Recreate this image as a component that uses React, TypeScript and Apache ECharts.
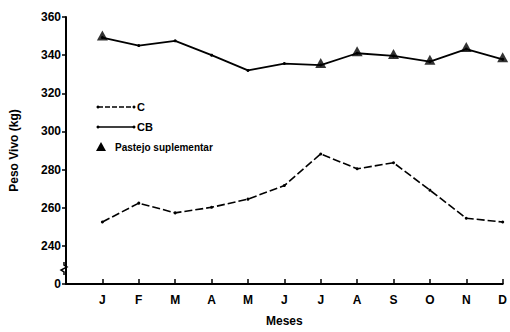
import React, { useEffect, useRef } from "react";
import * as echarts from "echarts";

const months = ["", "J", "F", "M", "A", "M", "J", "J", "A", "S", "O", "N", "D"];
const seriesC = [null, 252.5, 262.4, 257.3, 260.2, 264.5, 271.6, 288.2, 280.4, 283.6, 269.2, 254.5, 252.5];
const seriesCB = [null, 349.2, 345.0, 347.5, 340.0, 332.0, 335.6, 334.8, 341.0, 339.6, 336.6, 343.2, 337.8];
const pastejo = [null, 349.2, null, null, null, null, null, 334.8, 341.0, 339.6, 336.6, 343.2, 337.8];
const yTickLabels: Record<number, string> = { 220: "0", 240: "240", 260: "260", 280: "280", 300: "300", 320: "320", 340: "340", 360: "360" };

const FONT = "'Liberation Sans', Arial, sans-serif";

export default function App() {
  const ref = useRef<HTMLDivElement>(null);
  useEffect(() => {
    if (!ref.current) return;
    const chart = echarts.init(ref.current, null, { renderer: "svg" });
    chart.setOption({
      animation: false,
      backgroundColor: "#fff",
      grid: { left: 64, right: 4, top: 17, bottom: 42, containLabel: false },
      xAxis: {
        type: "category",
        data: months,
        boundaryGap: false,
        axisLine: { lineStyle: { color: "#000", width: 2 } },
        axisTick: { inside: true, length: 5, lineStyle: { color: "#000", width: 1.5 }, interval: 0 },
        axisLabel: { color: "#000", fontFamily: FONT, fontWeight: "bold", fontSize: 12, margin: 10, interval: 0 },
        name: "Meses",
        nameLocation: "middle",
        nameGap: 31,
        nameTextStyle: { color: "#000", fontFamily: FONT, fontWeight: "bold", fontSize: 12 },
        splitLine: { show: false },
      },
      yAxis: {
        type: "value",
        min: 220,
        max: 360,
        interval: 20,
        axisLine: { show: true, lineStyle: { color: "#000", width: 2 } },
        axisTick: { show: true, inside: false, length: 4, lineStyle: { color: "#000", width: 1.5 } },
        axisLabel: {
          color: "#000",
          fontFamily: FONT,
          fontWeight: "bold",
          fontSize: 12,
          margin: 5,
          formatter: (v: number) => yTickLabels[v] ?? "",
        },
        splitLine: { show: false },
        name: "Peso Vivo (kg)",
        nameLocation: "middle",
        nameGap: 46,
        nameRotate: 90,
        nameTextStyle: { color: "#000", fontFamily: FONT, fontWeight: "bold", fontSize: 12 },
      },
      series: [
        {
          name: "C",
          type: "line",
          data: seriesC,
          symbol: "circle",
          symbolSize: 3,
          itemStyle: { color: "#000" },
          lineStyle: { color: "#000", width: 1.6, type: [8, 3] },
        },
        {
          name: "CB",
          type: "line",
          data: seriesCB,
          symbol: "circle",
          symbolSize: 3,
          itemStyle: { color: "#000" },
          lineStyle: { color: "#000", width: 1.8 },
        },
        {
          name: "Pastejo suplementar",
          type: "scatter",
          data: pastejo,
          symbol: "triangle",
          symbolSize: [11, 10],
          symbolOffset: [0, -2],
          itemStyle: { color: "#000" },
        },
      ],
      graphic: [
        { type: "rect", shape: { x: 59, y: 263, width: 10, height: 10 }, style: { fill: "#fff" } },
        {
          type: "polyline",
          shape: { points: [[64, 262], [64, 265], [67, 267], [61, 270], [64, 272], [64, 275]] },
          style: { stroke: "#000", lineWidth: 1.5, fill: "none" },
        },
        { type: "line", shape: { x1: 98, y1: 107, x2: 134, y2: 107 }, style: { stroke: "#000", lineWidth: 1.4, lineDash: [5, 2] } },
        { type: "circle", shape: { cx: 98, cy: 107, r: 1.5 }, style: { fill: "#000" } },
        { type: "circle", shape: { cx: 134, cy: 107, r: 1.5 }, style: { fill: "#000" } },
        { type: "text", x: 137, y: 107, style: { text: "C", fill: "#000", font: `bold 11px ${FONT}`, verticalAlign: "middle" } },
        { type: "line", shape: { x1: 98, y1: 127, x2: 134, y2: 127 }, style: { stroke: "#000", lineWidth: 1.6 } },
        { type: "circle", shape: { cx: 98, cy: 127, r: 1.5 }, style: { fill: "#000" } },
        { type: "circle", shape: { cx: 134, cy: 127, r: 1.5 }, style: { fill: "#000" } },
        { type: "text", x: 137, y: 127, style: { text: "CB", fill: "#000", font: `bold 11px ${FONT}`, verticalAlign: "middle" } },
        { type: "polygon", shape: { points: [[101, 142], [96, 151], [106, 151]] }, style: { fill: "#000" } },
        { type: "text", x: 115, y: 147, style: { text: "Pastejo suplementar", fill: "#000", font: `bold 10px ${FONT}`, verticalAlign: "middle" } },
      ],
    });
    return () => chart.dispose();
  }, []);
  return <div ref={ref} style={{ width: 510, height: 332, position: "absolute", left: 0, top: 0 }} />;
}
